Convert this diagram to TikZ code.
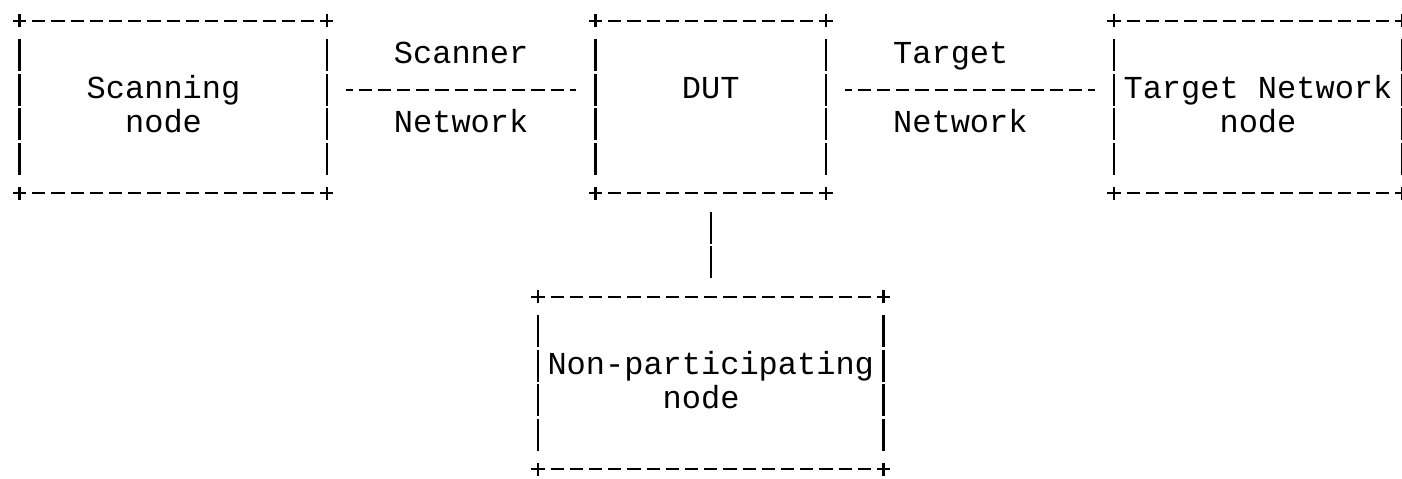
\documentclass[tikz,border=0pt]{standalone}
\usepackage{fontspec}
\newfontfamily\asciifont{Liberation Mono}
\newcommand\colw{9.6pt}
\newcommand\rowh{17.25pt}
\begin{document}
\begin{tikzpicture}[x=\colw, y=-\rowh,
  box/.style={rectangle, inner sep=0, outer sep=0, minimum width=#1*\colw, minimum height=5*\rowh},
  txt/.style={font=\asciifont\fontsize{16pt}{17.25pt}\selectfont, inner sep=0, anchor=base},
  hdash/.style={line width=1.2pt, dash pattern=on 6.6pt off 3pt, dash phase=3.3pt},
  vdash/.style={line width=1.2pt, dash pattern=on 15.85pt off 1.4pt, shorten <=9.325pt, shorten >=9.325pt},
  corner/.pic={\draw[line width=1.2pt] (-3.3pt,0) -- (3.3pt,0) (0,-3.3pt) -- (0,3.3pt);}]
\useasboundingbox (-1.016,-0.6) rectangle (72,13.255);
% boxes
\node[box=16] (scan) at (8,2.5) {};
\node[box=12] (dut) at (36,2.5) {};
\node[box=15] (tgt) at (64.5,2.5) {};
\node[box=18] (np) at (36,10.5) {};
% box texts
\node[txt] (scanning) at (7.5,2.25) {Scanning};
\node[txt] (scannode) at (7.5,3.25) {node};
\node[txt] (duttext) at (36,2.25) {DUT};
\node[txt] (tgttext) at (64.5,2.25) {Target Network};
\node[txt] (tgtnode) at (64.5,3.25) {node};
\node[txt] (nptext) at (36,10.25) {Non-participating};
\node[txt] (npnode) at (35.5,11.25) {node};
% network labels
\node[txt] (scanner) at (23,1.25) {Scanner};
\node[txt] (scannet) at (23,3.25) {Network};
\node[txt] (target) at (48.5,1.25) {Target};
\node[txt] (targetnet) at (49,3.25) {Network};
% frames
\draw[hdash] (scan.north west) -- (scan.north east) (scan.south west) -- (scan.south east);
\draw[vdash] (scan.north west) -- (scan.south west);
\draw[vdash] (scan.north east) -- (scan.south east);
\path (scan.north west) pic{corner} (scan.north east) pic{corner} (scan.south west) pic{corner} (scan.south east) pic{corner};
\draw[hdash] (dut.north west) -- (dut.north east) (dut.south west) -- (dut.south east);
\draw[vdash] (dut.north west) -- (dut.south west);
\draw[vdash] (dut.north east) -- (dut.south east);
\path (dut.north west) pic{corner} (dut.north east) pic{corner} (dut.south west) pic{corner} (dut.south east) pic{corner};
\draw[hdash] (tgt.north west) -- (tgt.north east) (tgt.south west) -- (tgt.south east);
\draw[vdash] (tgt.north west) -- (tgt.south west);
\draw[vdash] (tgt.north east) -- (tgt.south east);
\path (tgt.north west) pic{corner} (tgt.north east) pic{corner} (tgt.south west) pic{corner} (tgt.south east) pic{corner};
\draw[hdash] (np.north west) -- (np.north east) (np.south west) -- (np.south east);
\draw[vdash] (np.north west) -- (np.south west);
\draw[vdash] (np.north east) -- (np.south east);
\path (np.north west) pic{corner} (np.north east) pic{corner} (np.south west) pic{corner} (np.south east) pic{corner};
% links
\draw[hdash, shorten <=\colw, shorten >=\colw] ([yshift=0.5*\rowh]scan.east) -- ([yshift=0.5*\rowh]dut.west);
\draw[hdash, shorten <=\colw, shorten >=\colw] ([yshift=0.5*\rowh]dut.east) -- ([yshift=0.5*\rowh]tgt.west);
\draw[vdash] (dut.south) -- (np.north);
\end{tikzpicture}
\end{document}
